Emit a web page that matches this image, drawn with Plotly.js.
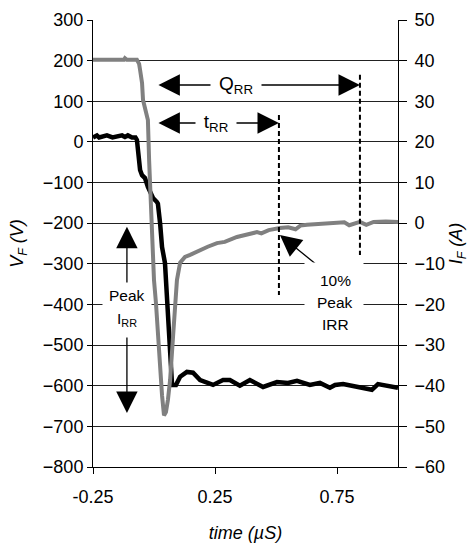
<!DOCTYPE html>
<html>
<head>
<meta charset="utf-8">
<script src="https://cdn.plot.ly/plotly-3.0.1.min.js"></script>
<style>html,body{margin:0;padding:0;background:#fff;}#chart{width:469px;height:546px;}</style>
</head>
<body>
<div id="chart"></div>
<script>
// Forward voltage V_F (V) vs time (µs) - black trace, left axis
const timeV = [-0.25,-0.234,-0.225,-0.193,-0.17,-0.131,-0.119,-0.107,-0.09,-0.076,-0.07,-0.066,-0.057,-0.049,-0.037,-0.025,-0.016,-0.004,0.012,0.016,0.025,0.033,0.045,0.049,0.053,0.061,0.066,0.074,0.09,0.107,0.135,0.16,0.189,0.242,0.283,0.311,0.352,0.393,0.447,0.504,0.549,0.586,0.639,0.68,0.721,0.742,0.775,0.844,0.893,0.918,0.955,1.0];
const vF    = [11,16,11,16,11,16,12,16,11,11,5,-27,-69,-82,-89,-111,-125,-138,-148,-152,-200,-259,-298,-340,-396,-463,-537,-598,-598,-578,-566,-568,-586,-598,-586,-586,-600,-586,-603,-591,-593,-588,-598,-593,-605,-598,-596,-603,-610,-596,-600,-605];
// Forward current I_F (A) vs time (µs) - grey trace, right axis
const timeI = [-0.25,-0.221,-0.123,-0.119,-0.111,-0.07,-0.061,-0.057,-0.049,-0.045,-0.033,-0.025,-0.02,-0.016,-0.008,-0.004,0.0,0.008,0.016,0.025,0.033,0.041,0.049,0.057,0.066,0.078,0.086,0.094,0.107,0.127,0.148,0.189,0.22,0.258,0.29,0.34,0.37,0.4,0.422,0.44,0.47,0.516,0.55,0.58,0.6,0.627,0.68,0.734,0.78,0.8,0.844,0.87,0.9,0.95,1.0];
const iF    = [40.2,40.2,40.2,40.6,40.2,40.2,39.2,37.7,34.5,30.3,27.1,25.4,15.5,8.2,0.8,-6.6,-14,-19.6,-28,-36.2,-42.4,-47.3,-46.5,-43.5,-38.6,-28,-19.6,-14,-9.7,-8.3,-7.8,-6.6,-5.8,-4.9,-4.6,-3.4,-3.0,-2.6,-2.2,-2.5,-1.7,-1.2,-1.0,-1.5,-0.6,-0.4,-0.2,0.0,0.2,-0.5,0.3,-0.4,0.3,0.4,0.3];
const xTicks = [-0.25, 0.25, 0.75];
const xTickText = ['-0.25', '0.25', '0.75'];

const FONT = 'Liberation Sans, Arial, sans-serif';

const traces = [
  {x: timeI, y: iF, yaxis: 'y2', type: 'scatter', mode: 'lines',
   line: {color: '#808080', width: 4}, hoverinfo: 'skip'},
  {x: timeV, y: vF, yaxis: 'y', type: 'scatter', mode: 'lines',
   line: {color: '#000000', width: 4.5}, hoverinfo: 'skip'}
];

function arrow(x, y, ax, ay, both) {
  return {x: x, y: y, ax: ax, ay: ay, xref: 'x', yref: 'y', axref: 'x', ayref: 'y',
    text: '', showarrow: true, arrowhead: 2, startarrowhead: 2,
    arrowside: both ? 'end+start' : 'end', arrowwidth: 1.3, arrowsize: 3.3,
    startarrowsize: 3.3, arrowcolor: '#000', standoff: 0, startstandoff: 0};
}
function label(x, y, text, size, opts) {
  return Object.assign({x: x, y: y, xref: 'x', yref: 'y', text: text, showarrow: false,
    xanchor: 'center', yanchor: 'middle', font: {family: FONT, size: size, color: '#000'}}, opts || {});
}
function mask(x, y, w, h) {
  return {x: x, y: y, xref: 'x', yref: 'y', text: ' ', showarrow: false, width: w, height: h,
    bgcolor: '#fff', borderpad: 0, xanchor: 'center', yanchor: 'middle', font: {size: 10}};
}

const layout = {
  width: 469, height: 546,
  margin: {l: 93, r: 71, t: 20, b: 79, pad: 0},
  paper_bgcolor: '#fff', plot_bgcolor: '#fff',
  showlegend: false,
  font: {family: FONT, size: 18, color: '#000'},
  xaxis: {
    range: [-0.25, 1.0], tickvals: xTicks, ticktext: xTickText,
    showgrid: false, zeroline: false, showline: true, linecolor: '#000', linewidth: 1,
    ticks: 'outside', ticklen: 6, tickcolor: '#000', tickfont: {size: 18}, ticklabelstandoff: 7,
    title: {text: '<i>time (µS)</i>', font: {size: 18}, standoff: 20}
  },
  yaxis: {
    range: [-800, 300], dtick: 100, showgrid: true, gridcolor: '#222', gridwidth: 1,
    zeroline: false, showline: true, linecolor: '#000', linewidth: 1,
    ticks: 'outside', ticklen: 5, tickcolor: '#000', tickfont: {size: 18},
    title: {text: '<i>V<sub>F</sub> (V)</i>', font: {size: 18}, standoff: 14}
  },
  yaxis2: {
    range: [-60, 50], dtick: 10, overlaying: 'y', side: 'right', showgrid: false,
    zeroline: false, showline: true, linecolor: '#000', linewidth: 1,
    ticks: 'outside', ticklen: 8, tickcolor: '#000', tickfont: {size: 18}, ticklabelstandoff: 4,
    title: {text: '<i>I<sub>F</sub> (A)</i>', font: {size: 18}, standoff: 12}
  },
  shapes: [
    {type: 'line', xref: 'x', yref: 'y', x0: 0.512, x1: 0.512, y0: 66, y1: -377,
     line: {color: '#000', width: 2, dash: '5px,3px'}},
    {type: 'line', xref: 'x', yref: 'y', x0: 0.844, x1: 0.844, y0: 165, y1: -278,
     line: {color: '#000', width: 2, dash: '5px,3px'}}
  ],
  annotations: [
    arrow(0.844, 140, 0.012, 140, true),
    arrow(0.512, 46.5, 0.012, 46.5, true),
    arrow(-0.111, -667, -0.111, -205, true),
    arrow(0.516, -229, 0.693, -315, false),
    label(0.336, 140, 'Q<sub>RR</sub>', 19, {bgcolor: '#fff', width: 50, borderpad: 0}),
    label(0.254, 46.5, 't<sub>RR</sub>', 19, {bgcolor: '#fff', width: 40, borderpad: 0}),
    mask(-0.111, -413, 48, 54),
    label(-0.111, -377, 'Peak', 15.5),
    label(-0.111, -438, 'I<sub>RR</sub>', 15.5),
    mask(0.738, -392, 58, 76),
    label(0.742, -340, '10%', 15.5),
    label(0.742, -396, 'Peak', 15.5),
    label(0.742, -450, 'IRR', 15.5)
  ]
};

Plotly.newPlot('chart', traces, layout, {staticPlot: true, displayModeBar: false});
</script>
</body>
</html>
